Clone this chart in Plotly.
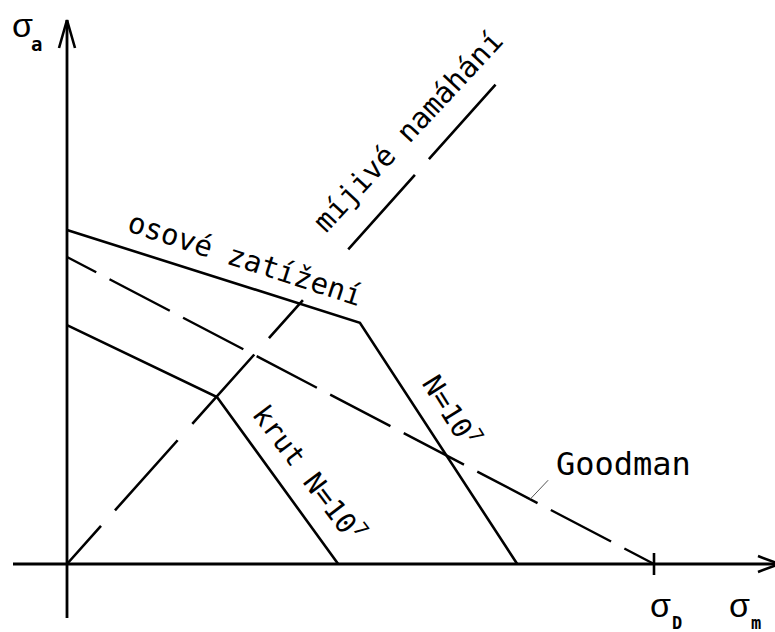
import plotly.graph_objects as go

# Haigh fatigue diagram, stresses normalised so that sigma_D = 100
SIGMA_D = 100.0

# Goodman line (dashed): from the sigma_a intercept down to sigma_D
goodman_m = [0.0, SIGMA_D]
goodman_a = [52.3, 0.0]

# axial loading limit, N = 10^7
axial_m = [0.0, 49.9, 76.7]
axial_a = [56.9, 41.1, 0.0]

# torsion limit, N = 10^7
torsion_m = [0.0, 25.55, 46.2]
torsion_a = [40.7, 28.45, 0.0]

# pulsating loading ray from the origin
pulsating_m = [0.0, 73.25]
pulsating_a = [0.0, 81.94]

# ---- page geometry -------------------------------------------------------
W, H = 775, 632
OX, OY = 67, 564          # origin on the page, px
S = 5.87                  # px per stress unit (equal on both axes)


def d(px):
    """length in px -> data units"""
    return px / S


def pos(px, py):
    """page position (px) -> data coordinates"""
    return (px - OX) / S, (OY - py) / S


BLACK = "#000000"
MONO = "DejaVu Sans Mono"
SIG = "Liberation Sans, Arial, sans-serif"

fig = go.Figure()


def line(x, y, width=2.7, dash="solid", color=BLACK):
    fig.add_trace(go.Scatter(
        x=x, y=y, mode="lines", hoverinfo="skip", showlegend=False,
        line=dict(color=color, width=width, dash=dash)))


# axes with open arrow heads
x_end, y_end = d(W + 4 - OX), d(OY - 20)
line([-d(54), x_end], [0, 0], width=2.8)
line([0, 0], [-d(54), y_end], width=2.8)
line([x_end - d(21), x_end, x_end - d(21)], [d(8), 0, -d(8)], width=2.6)
line([-d(8), 0, d(8)], [y_end - d(28), y_end, y_end - d(28)], width=2.6)

# tick at sigma_D
line([SIGMA_D, SIGMA_D], [-d(11), d(11)], width=2.6)

# curves
goodman_dash = ",".join(["33px", "15px"] + ["68px", "15px"] * 9)
line(goodman_m, goodman_a, width=2.4, dash=goodman_dash)
pulsating_dash = "51px,21px,94px,22px,93px,22px,51px,68px,100px,21px,100px,200px"
line(pulsating_m, pulsating_a, width=2.6, dash=pulsating_dash)
line(axial_m, axial_a, width=2.6)
line(torsion_m, torsion_a, width=2.6)

# leader from the Goodman label to its line
lm = 78.9
la = goodman_a[0] * (1 - lm / SIGMA_D)
fig.add_shape(type="line", x0=lm, y0=la, x1=lm + d(18), y1=la + d(19),
              line=dict(color="#555555", width=1))


def text(s, px, py, size, angle=0, family=MONO, bold=False):
    x, y = pos(px, py)
    if bold:
        s = "<b>" + s + "</b>"
    fig.add_annotation(x=x, y=y, text=s, showarrow=False, textangle=angle,
                       xanchor="center", yanchor="middle",
                       font=dict(family=family, size=size, color=BLACK))


# axis symbols
text("σ", 22, 25, 34, family=SIG)
text("a", 36, 44, 19, family=MONO, bold=True)
text("σ", 660, 605, 34, family=SIG)
text("D", 677, 623, 17, family=MONO, bold=True)
text("σ", 739, 605, 34, family=SIG)
text("m", 756, 623, 17, family=MONO, bold=True)

# curve labels
text("osové zatížení", 245, 259, 29, angle=18)
text("míjivé namáhání", 408, 131, 29, angle=-47)
text("krut N=10<sup>7</sup>", 310, 473, 28, angle=53)
text("N=10<sup>7</sup>", 452, 410, 28, angle=58)
text("Goodman", 623, 464, 32)

fig.update_layout(
    width=W, height=H,
    margin=dict(l=0, r=0, t=0, b=0),
    paper_bgcolor="white", plot_bgcolor="white",
    xaxis=dict(visible=False, range=[-OX / S, (W - OX) / S], fixedrange=True),
    yaxis=dict(visible=False, range=[-(H - OY) / S, OY / S], fixedrange=True),
    showlegend=False,
)

fig.write_html("out.html")
